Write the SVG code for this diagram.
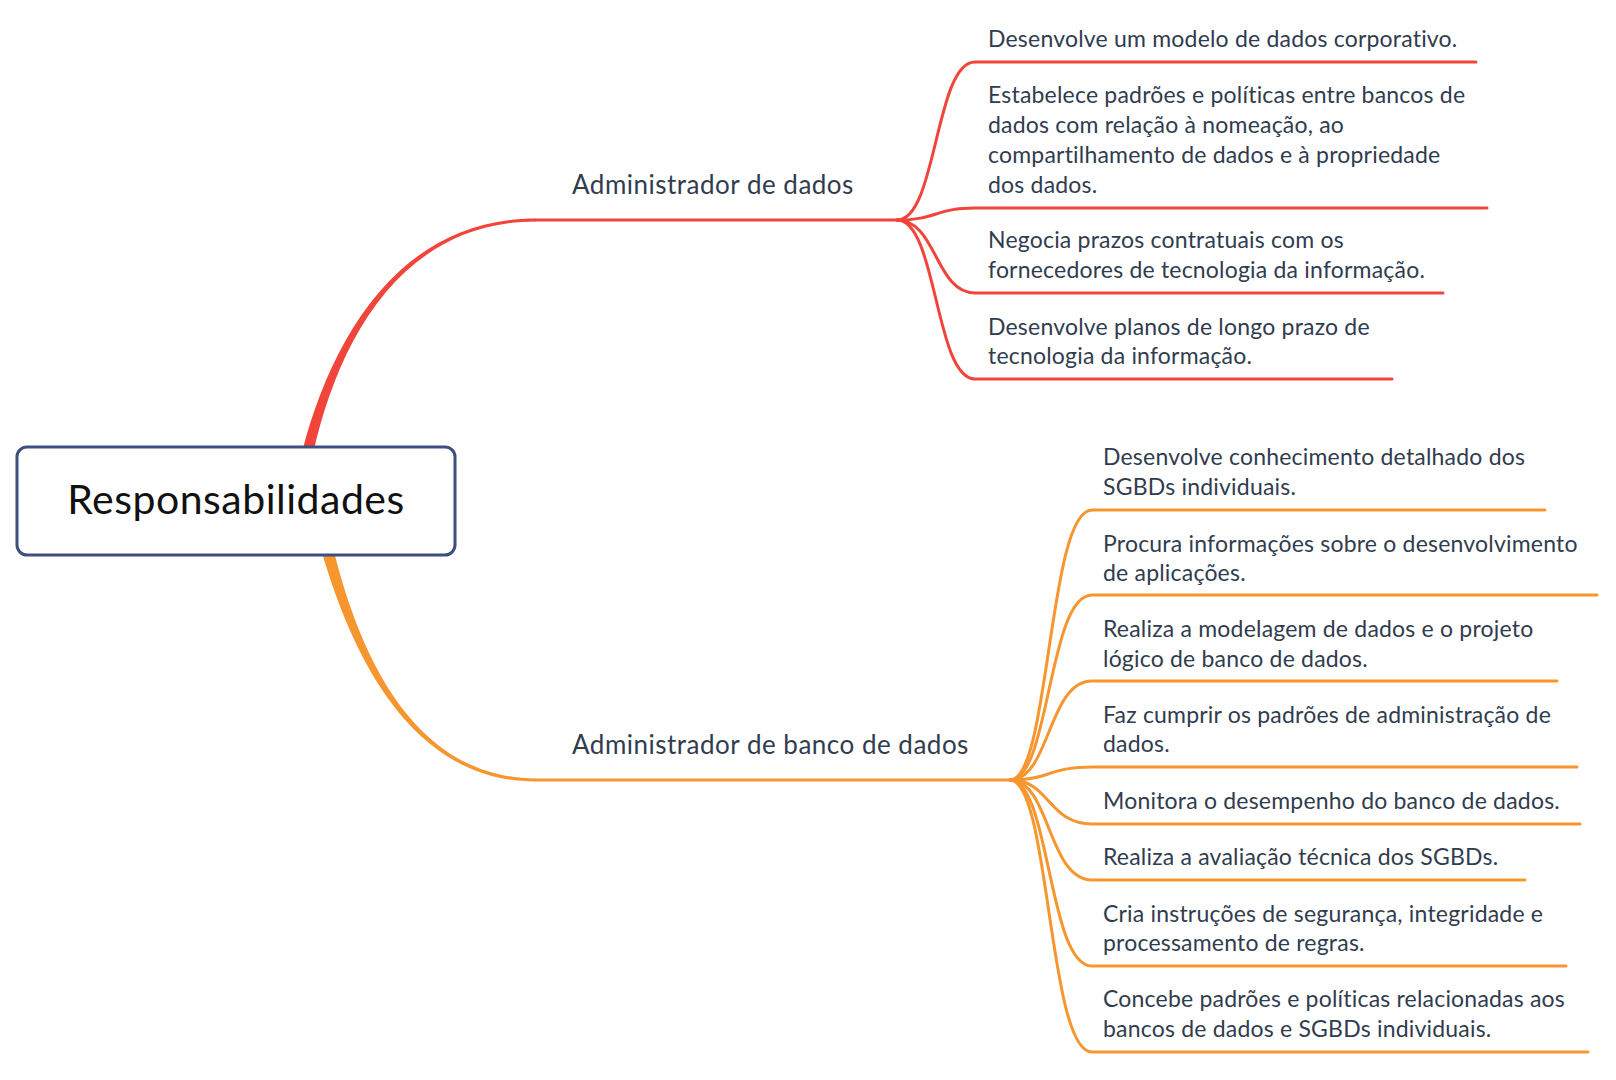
<svg xmlns="http://www.w3.org/2000/svg" width="1616" height="1080" viewBox="0 0 1616 1080">
<style>
  .bg{fill:#ffffff}
  .leaf{font-family:Lato,"Noto Sans",sans-serif;font-size:23px;letter-spacing:0.2px;fill:#313c4f}
  .mid{font-family:Lato,"Noto Sans",sans-serif;font-size:26px;letter-spacing:0.5px;fill:#313c4f}
  .root{font-family:Lato,"Noto Sans",sans-serif;font-size:41px;letter-spacing:0.5px;fill:#111111}
  .red{fill:none;stroke:#f1443b;stroke-width:3;stroke-linecap:round}
  .org{fill:none;stroke:#f7952f;stroke-width:3;stroke-linecap:round}
  .redfill{fill:#f1443b}
  .orgfill{fill:#f7952f}
  .box{fill:#ffffff;stroke:#3c4f7e;stroke-width:3}
</style>
<rect class="bg" x="0" y="0" width="1616" height="1080"/>
<g id="connectors">
  <path class="redfill" d="M302.6,450 C331.8,338.6 399.4,218.1 536,218.5 L536,221.5 C400.6,221.9 338.2,341.4 313.4,452.6 Z"/>
  <path class="red" d="M536,220 L897,220"/>
  <path class="red" d="M897,220 C937,220 935,62 975,62 L1476,62"/>
  <path class="red" d="M897,220 C937,220 935,208 975,208 L1487,208"/>
  <path class="red" d="M897,220 C937,220 935,293 975,293 L1443,293"/>
  <path class="red" d="M897,220 C937,220 935,379 975,379 L1392,379"/>
  <path class="orgfill" d="M322.2,553.3 C356.9,671.6 419.4,781.9 536,781.5 L536,778.5 C420.6,778.1 363.1,668.4 333.8,550.7 Z"/>
  <path class="org" d="M536,780 L1010,780"/>
  <path class="org" d="M1010,780 C1050,780 1048,510 1092,510 L1545,510"/>
  <path class="org" d="M1010,780 C1050,780 1048,595 1092,595 L1597,595"/>
  <path class="org" d="M1010,780 C1050,780 1048,681 1092,681 L1557,681"/>
  <path class="org" d="M1010,780 C1050,780 1048,767 1092,767 L1577,767"/>
  <path class="org" d="M1010,780 C1050,780 1048,824 1092,824 L1580,824"/>
  <path class="org" d="M1010,780 C1050,780 1048,880 1092,880 L1525,880"/>
  <path class="org" d="M1010,780 C1050,780 1048,966 1092,966 L1566,966"/>
  <path class="org" d="M1010,780 C1050,780 1048,1052 1092,1052 L1588,1052"/>
</g>
<g id="root">
  <rect class="box" x="17" y="447" width="438" height="108" rx="10"/>
  <text class="root" x="236" y="514" text-anchor="middle">Responsabilidades</text>
</g>
<g id="admin-dados">
  <text class="mid" x="572" y="194">Administrador de dados</text>
</g>
<g id="admin-banco">
  <text class="mid" x="572" y="754">Administrador de banco de dados</text>
</g>
<g id="r1"><text class="leaf" x="988" y="47">Desenvolve um modelo de dados corporativo.</text></g>
<g id="r2"><text class="leaf" x="988" y="103"><tspan x="988">Estabelece padrões e políticas entre bancos de</tspan><tspan x="988" dy="30">dados com relação à nomeação, ao</tspan><tspan x="988" dy="30">compartilhamento de dados e à propriedade</tspan><tspan x="988" dy="30">dos dados.</tspan></text></g>
<g id="r3"><text class="leaf" x="988" y="248"><tspan x="988">Negocia prazos contratuais com os</tspan><tspan x="988" dy="30">fornecedores de tecnologia da informação.</tspan></text></g>
<g id="r4"><text class="leaf" x="988" y="335"><tspan x="988">Desenvolve planos de longo prazo de</tspan><tspan x="988" dy="29">tecnologia da informação.</tspan></text></g>
<g id="o1"><text class="leaf" x="1103" y="465"><tspan x="1103">Desenvolve conhecimento detalhado dos</tspan><tspan x="1103" dy="30">SGBDs individuais.</tspan></text></g>
<g id="o2"><text class="leaf" x="1103" y="552"><tspan x="1103">Procura informações sobre o desenvolvimento</tspan><tspan x="1103" dy="29">de aplicações.</tspan></text></g>
<g id="o3"><text class="leaf" x="1103" y="637"><tspan x="1103">Realiza a modelagem de dados e o projeto</tspan><tspan x="1103" dy="30">lógico de banco de dados.</tspan></text></g>
<g id="o4"><text class="leaf" x="1103" y="723"><tspan x="1103">Faz cumprir os padrões de administração de</tspan><tspan x="1103" dy="29">dados.</tspan></text></g>
<g id="o5"><text class="leaf" x="1103" y="809">Monitora o desempenho do banco de dados.</text></g>
<g id="o6"><text class="leaf" x="1103" y="865">Realiza a avaliação técnica dos SGBDs.</text></g>
<g id="o7"><text class="leaf" x="1103" y="922"><tspan x="1103">Cria instruções de segurança, integridade e</tspan><tspan x="1103" dy="29">processamento de regras.</tspan></text></g>
<g id="o8"><text class="leaf" x="1103" y="1007"><tspan x="1103">Concebe padrões e políticas relacionadas aos</tspan><tspan x="1103" dy="30">bancos de dados e SGBDs individuais.</tspan></text></g>
</svg>
